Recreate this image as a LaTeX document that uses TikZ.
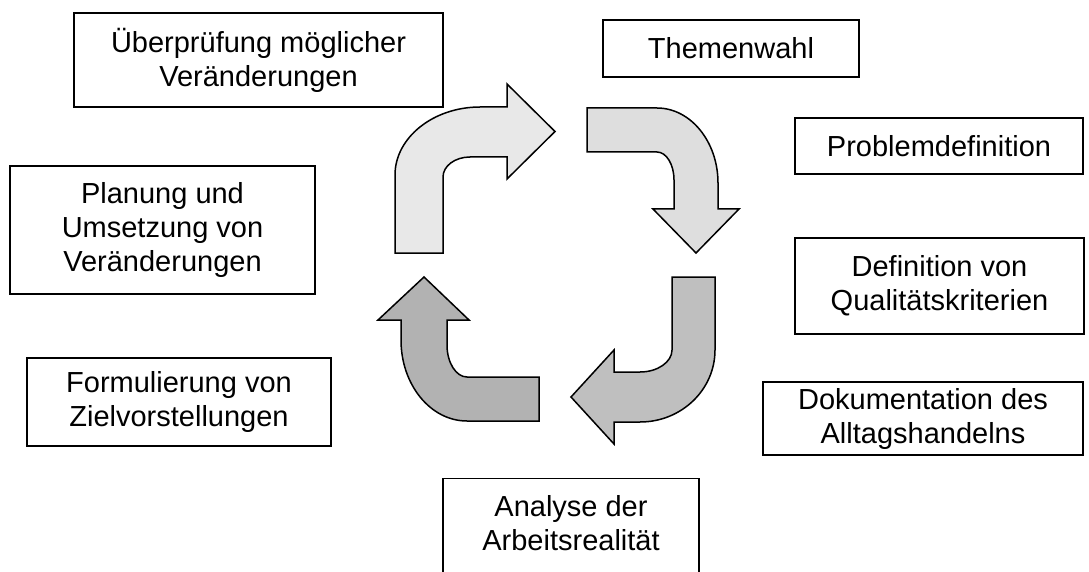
\documentclass[tikz,border=0pt]{standalone}
\usepackage{fontspec}
\setmainfont{Liberation Sans}
\begin{document}
\begin{tikzpicture}[x=1pt,y=-1pt,
  box/.style={draw=black, line width=1.4pt, fill=white, inner sep=0pt,
    align=center, font=\fontsize{29}{34}\selectfont},
  txt/.style={inner sep=0pt, align=center, font=\fontsize{29}{34}\selectfont},
  bent/.style={draw=black, line width=1.5pt, line join=miter}]
\useasboundingbox (0,0) rectangle (1089,572);

% step boxes
\node[box, minimum width=369, minimum height=94] (check) at (258.5,60) {Überprüfung möglicher\\Veränderungen};
\node[box, minimum width=256, minimum height=57] (theme) at (731,48.5) {Themenwahl};
\node[box, minimum width=288, minimum height=56] (problem) at (939,146) {Problemdefinition};
\node[box, minimum width=289, minimum height=96] (criteria) at (939.5,286) {Definition von\\Qualitätskriterien};
\node[box, minimum width=320, minimum height=73] (docu) at (923,418.5) {Dokumentation des\\Alltagshandelns};
\node[box, minimum width=256, minimum height=110, anchor=north] (analysis) at (571,478) {};
\node[txt] (analysistext) at (571,523) {Analyse der\\Arbeitsrealität};
\node[box, minimum width=304, minimum height=88] (goals) at (179,402) {Formulierung von\\Zielvorstellungen};
\node[box, minimum width=305, minimum height=128] (plan) at (162.5,230) {Planung und\\Umsetzung von\\Veränderungen};

% bent arrows of the cycle
\draw[bent, fill=black!9]
  (395,253) -- (395,175)
  .. controls (395,137.6) and (433.3,107) .. (480,107)
  -- (507,107) -- (507,84) -- (555,131.5) -- (507,179) -- (507,157)
  -- (470,157)
  .. controls (455,157) and (443,166) .. (443,177)
  -- (443,253) -- cycle;

\draw[bent, fill=black!13]
  (587,108) -- (657,108)
  .. controls (690.6,108) and (718,141.7) .. (718,183)
  -- (718,209) -- (739,209) -- (696,253) -- (653,209) -- (674,209)
  -- (674,180)
  .. controls (674,164.5) and (666.4,152) .. (657,152)
  -- (587,152) -- cycle;

\draw[bent, fill=black!25]
  (672,277) -- (715,277) -- (715,350)
  .. controls (715,389.8) and (681.4,422) .. (640,422)
  -- (614,422) -- (614,444) -- (571,397) -- (614,350) -- (614,372)
  -- (640,372)
  .. controls (657.6,372) and (672,362) .. (672,350)
  -- cycle;

\draw[bent, fill=black!30]
  (539,377) -- (539,421) -- (467,421)
  .. controls (430.5,421) and (401,384.7) .. (401,340)
  -- (401,320) -- (378,320) -- (424,277) -- (469,320) -- (447,320)
  -- (447,345)
  .. controls (447,362.6) and (456,377) .. (467,377)
  -- cycle;
\end{tikzpicture}
\end{document}
